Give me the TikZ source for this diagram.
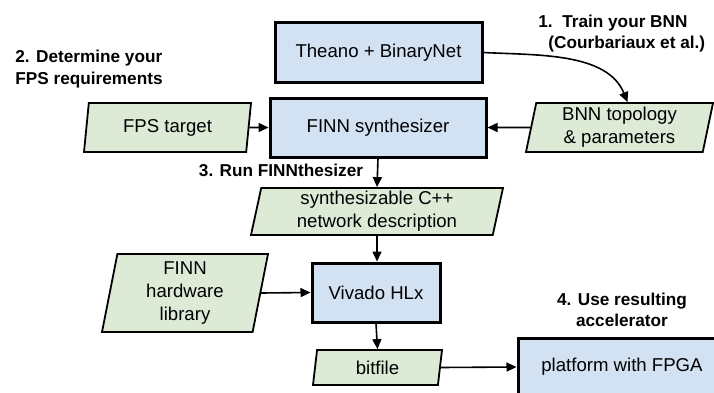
\documentclass[tikz,border=0pt]{standalone}
\usepackage{fontspec}
\setmainfont{Liberation Sans}
\usetikzlibrary{arrows.meta, positioning, shapes.geometric}
\definecolor{finnblue}{RGB}{210,226,243}
\definecolor{finngreen}{RGB}{221,235,214}

\begin{document}
\begin{tikzpicture}[x=0.5pt, y=-0.5pt,
  procbox/.style={draw=black, line width=1.5pt, fill=finnblue, inner sep=1pt,
    font=\fontsize{9.3}{11.5}\selectfont, align=center},
  databox/.style={draw=black, line width=0.9pt, fill=finngreen, inner sep=1pt,
    trapezium, trapezium left angle=77, trapezium right angle=103,
    trapezium stretches body=true,
    font=\fontsize{9.3}{11.5}\selectfont, align=center},
  steplabel/.style={font=\fontsize{8.6}{10.8}\selectfont\bfseries, inner sep=0pt},
  flow/.style={-{Triangle[length=5pt,width=4.5pt]}, line width=0.8pt}]

\useasboundingbox (0,0) rectangle (714,392);
\clip (0,0) rectangle (714,392);

% ---- Processing steps ----
\node[procbox, minimum width=103.5pt, minimum height=30pt]
  (theano) at (378.5,52.5) {Theano + BinaryNet};
\node[procbox, minimum width=108pt, minimum height=29.5pt]
  (synth) at (378,127.5) {FINN synthesizer};
\node[procbox, minimum width=64pt, minimum height=29.5pt]
  (vivado) at (376,292.5) {Vivado HLx};
\node[procbox, minimum width=104pt, minimum height=29pt]
  (platform) at (622,367) {platform with FPGA};

% ---- Data items ----
\node[databox, minimum width=83.5pt, minimum height=24.5pt]
  (fps) at (167.5,127.5) {FPS target};
\node[databox, minimum width=93.5pt, minimum height=24.5pt]
  (bnn) at (619.5,127.5) {BNN topology\\\& parameters};
\node[databox, minimum width=126pt, minimum height=23.5pt]
  (ccode) at (377,211.5) {synthesizable C++\\network description};
\node[databox, minimum width=83pt, minimum height=39pt]
  (hwlib) at (185,293) {FINN\\hardware\\library};
\node[databox, minimum width=64.5pt, minimum height=17.5pt]
  (bitfile) at (377.5,367.5) {bitfile};

% ---- Step labels ----
\node[steplabel, anchor=west, align=left] (lab1) at (538,33.5)
  {1.\ \ Train your BNN\\\hspace{5pt}(Courbariaux et al.)};
\node[steplabel, anchor=west, align=left] (lab2) at (15,69)
  {2. Determine your\\FPS requirements};
\node[steplabel] (lab3) at (281,170) {3. Run FINNthesizer};
\node[steplabel, align=center] (lab4) at (622,310)
  {4. Use resulting\\accelerator};

% ---- Connectors ----
\draw[flow] (theano.east) to[out=-3, in=112, looseness=0.9]
  ([xshift=4pt]bnn.north);
\draw[flow] (fps.east) -- (synth.west);
\draw[flow] (bnn.west) -- (synth.east);
\draw[flow] (synth.south) -- (ccode.north);
\draw[flow] (ccode.south) -- (ccode.south |- vivado.north);
\draw[flow] (hwlib.east) -- (vivado.west);
\draw[flow] (vivado.south) -- (bitfile.north);
\draw[flow] (bitfile.east) -- (platform.west);

\end{tikzpicture}
\end{document}
